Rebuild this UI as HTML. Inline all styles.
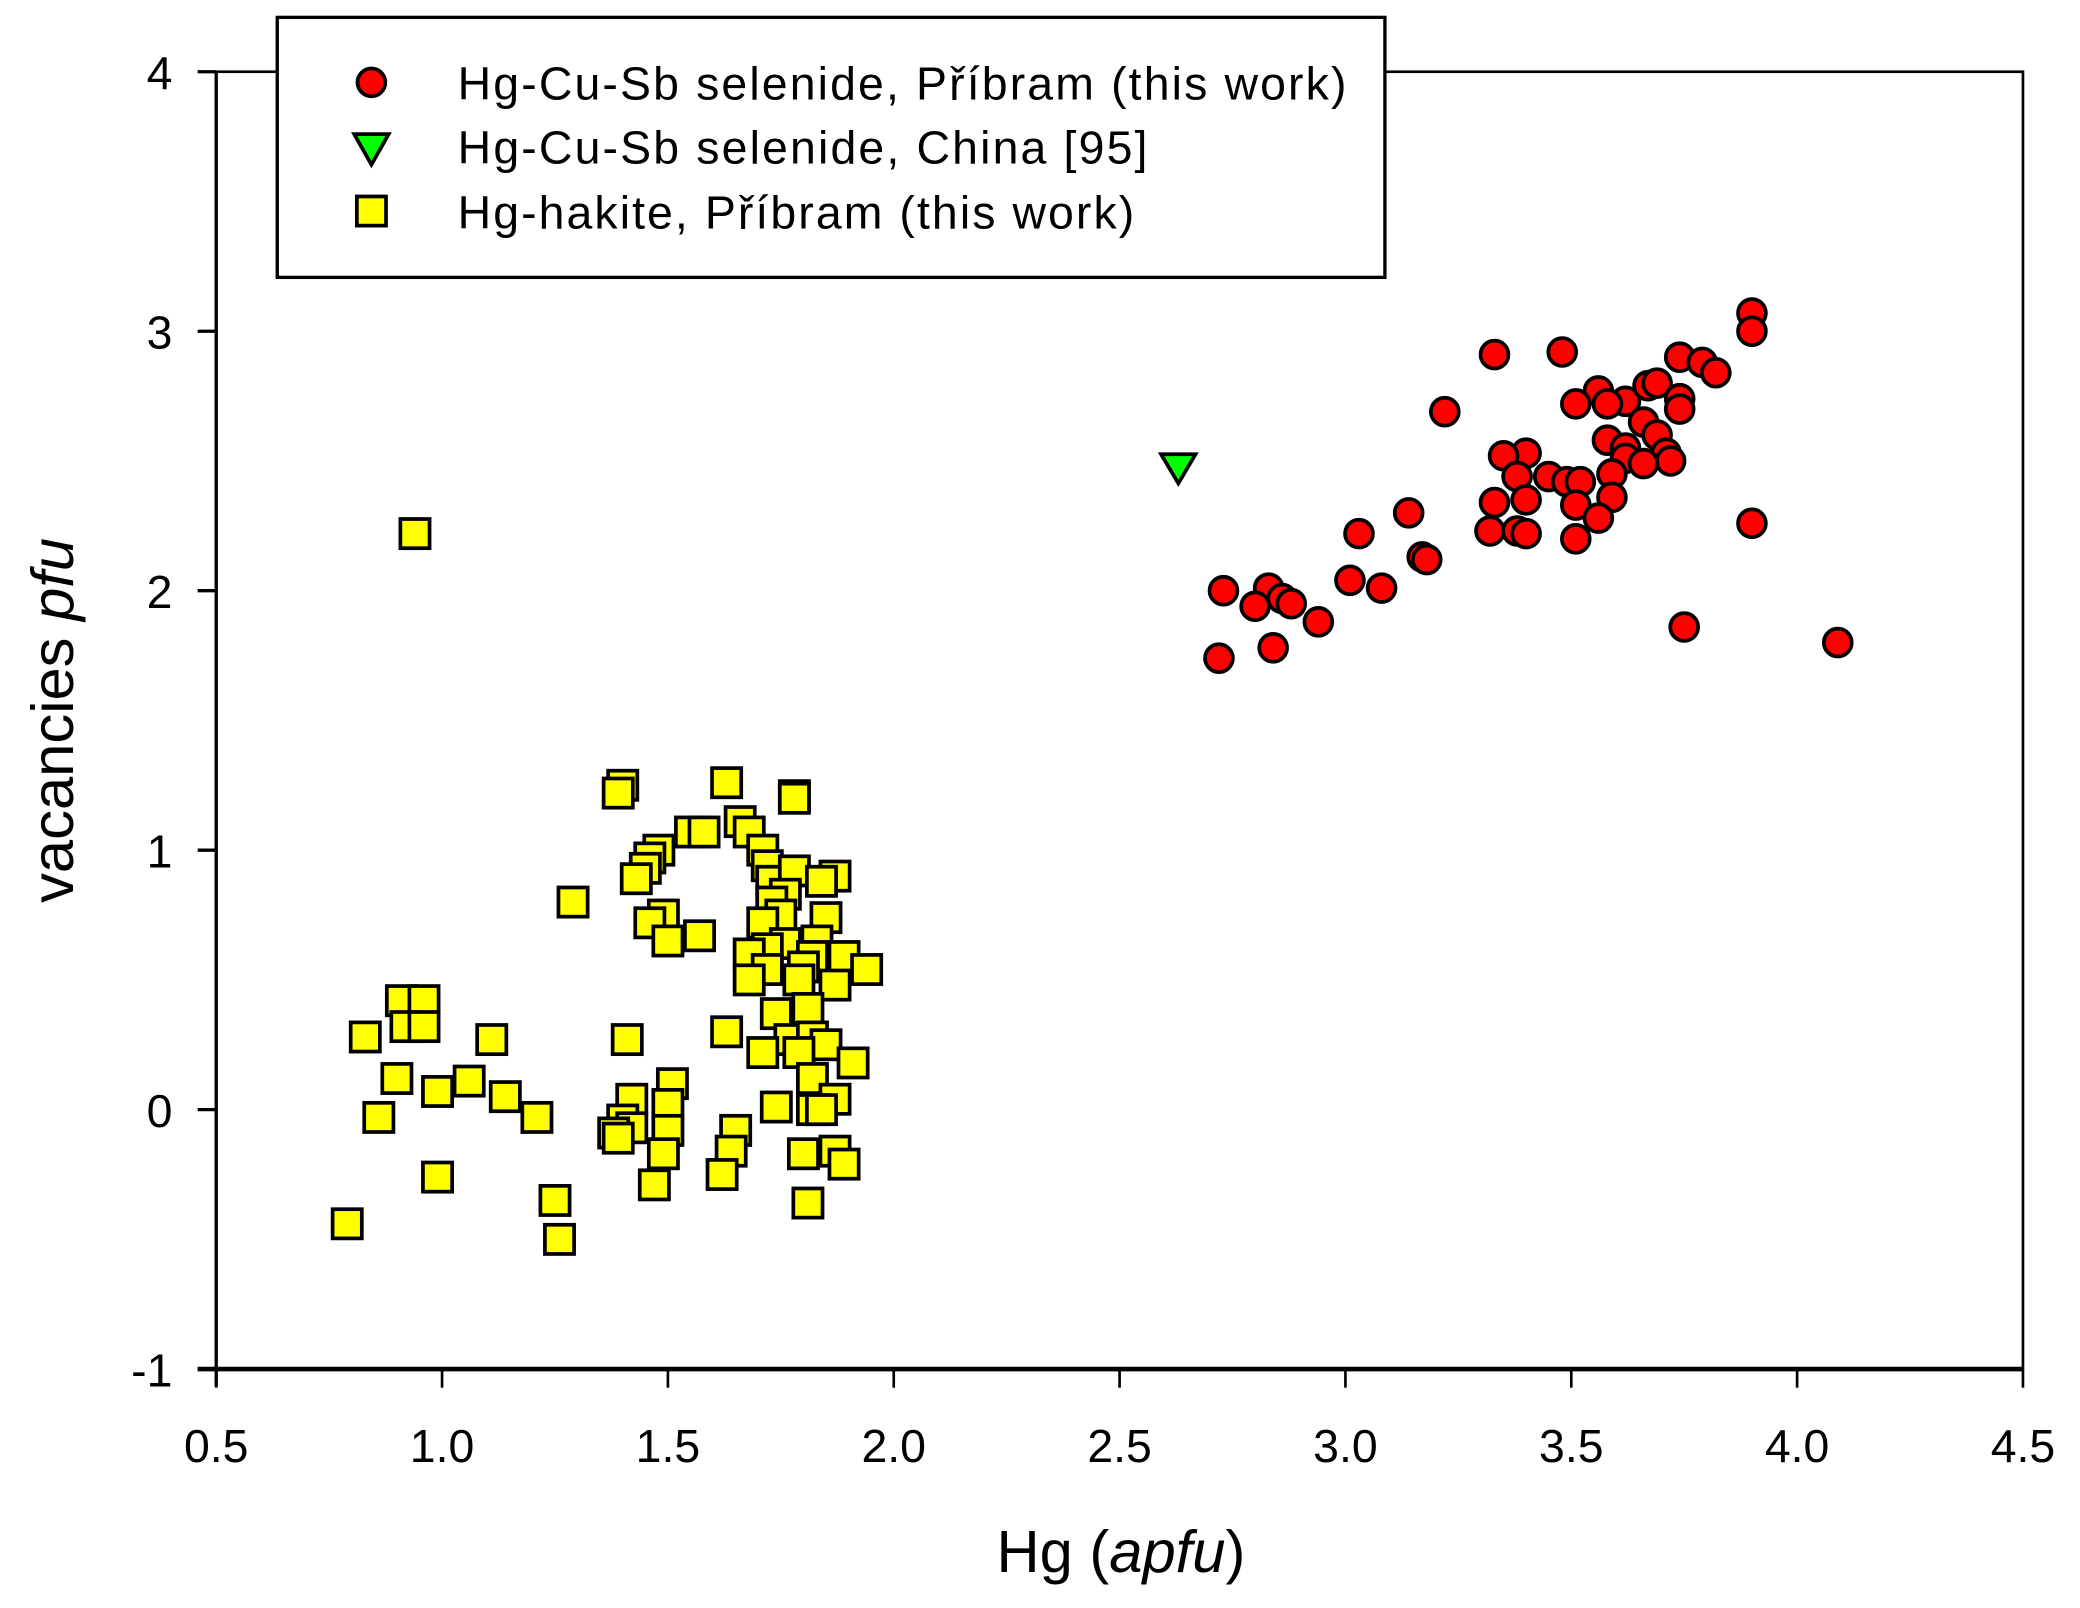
<!DOCTYPE html>
<html><head><meta charset="utf-8"><style>
html,body{margin:0;padding:0;background:#fff;}
svg{display:block;font-family:"Liberation Sans",Arial,sans-serif;}
</style></head><body>
<svg id="chart" width="2080" height="1608" viewBox="0 0 1568 1212" xmlns="http://www.w3.org/2000/svg">
<rect x="0" y="0" width="1568" height="1212" fill="#fff"/>
<g id="axes"></g>
<g id="marks"></g>
<g id="legend">
  <rect x="209" y="13" width="835" height="196" fill="#fff" stroke="#000" stroke-width="2.5"/>
  <circle cx="280" cy="62" r="10.5" fill="#ff0000" stroke="#000" stroke-width="2.8"/>
  <path d="M267,101 L293,101 L280,124 Z" fill="#00ff00" stroke="#000" stroke-width="2.8"/>
  <rect x="269" y="148" width="22" height="22" fill="#ffff00" stroke="#000" stroke-width="2.8"/>
  <text x="345" y="75" font-size="35" textLength="670">Hg-Cu-Sb selenide, Příbram (this work)</text>
  <text x="345" y="123" font-size="35" textLength="520">Hg-Cu-Sb selenide, China [95]</text>
  <text x="345" y="172" font-size="35" textLength="510">Hg-hakite, Příbram (this work)</text>
</g>
<text x="845" y="1185" font-size="45" text-anchor="middle">Hg (<tspan font-style="italic">apfu</tspan>)</text>
<text transform="translate(55,543) rotate(-90)" font-size="45" text-anchor="middle">vacancies <tspan font-style="italic">pfu</tspan></text>
</svg>
<script>
const xTicks = [0.5,1.0,1.5,2.0,2.5,3.0,3.5,4.0,4.5];
const xTickLabels = ["0.5","1.0","1.5","2.0","2.5","3.0","3.5","4.0","4.5"];
const yTicks = [-1,0,1,2,3,4];
const yTickLabels = ["-1","0","1","2","3","4"];
const redX = [3.90,3.90,3.74,3.79,3.82,3.48,3.33,3.56,3.51,3.62,3.67,3.69,3.74,3.74,3.58,3.66,3.22,3.69,3.58,3.62,3.62,3.40,3.35,3.71,3.72,3.66,3.45,3.38,3.59,3.49,3.52,3.40,3.33,3.51,3.59,3.14,3.56,3.90,3.32,3.38,3.40,3.51,3.03,3.17,3.18,3.01,3.08,2.83,2.73,2.86,2.88,2.80,2.94,3.75,4.09,2.84,2.72];
const redY = [3.07,3.00,2.90,2.88,2.84,2.92,2.91,2.77,2.72,2.73,2.79,2.80,2.74,2.70,2.72,2.65,2.69,2.60,2.58,2.55,2.51,2.53,2.52,2.53,2.50,2.49,2.44,2.44,2.45,2.42,2.42,2.35,2.34,2.33,2.36,2.30,2.28,2.26,2.23,2.23,2.22,2.20,2.22,2.13,2.12,2.04,2.01,2.01,2.00,1.97,1.95,1.94,1.88,1.86,1.80,1.78,1.74];
const greenX = [2.63];
const greenY = [2.48];
const yellowX = [0.94,1.40,1.39,1.63,1.78,1.78,1.55,1.58,1.66,1.68,1.71,1.48,1.46,1.45,1.43,1.72,1.73,1.78,1.87,1.84,1.76,1.73,1.29,1.49,1.75,1.85,1.46,1.71,1.50,1.57,1.76,1.83,1.72,1.68,1.82,1.89,1.80,1.72,1.94,1.79,1.68,1.87,0.91,0.96,1.81,1.74,0.92,0.96,0.83,1.11,1.41,1.63,1.77,1.82,1.85,1.79,1.71,1.91,0.90,1.06,1.82,1.51,0.99,1.14,1.42,1.87,1.50,1.74,1.82,1.84,0.86,1.21,1.40,1.42,1.50,1.65,1.38,1.39,1.64,1.80,1.87,1.49,1.89,0.99,1.62,1.47,1.25,1.81,0.79,1.26];
const yellowY = [2.22,1.25,1.22,1.26,1.21,1.20,1.07,1.07,1.11,1.07,1.00,1.00,0.97,0.93,0.89,0.94,0.88,0.92,0.90,0.88,0.83,0.80,0.80,0.75,0.75,0.74,0.72,0.72,0.65,0.67,0.64,0.65,0.62,0.60,0.59,0.59,0.55,0.54,0.54,0.50,0.50,0.48,0.42,0.42,0.39,0.37,0.32,0.32,0.28,0.27,0.27,0.30,0.27,0.28,0.25,0.22,0.22,0.18,0.12,0.11,0.12,0.10,0.07,0.05,0.04,0.04,0.02,0.01,0.00,0.00,-0.03,-0.03,-0.04,-0.07,-0.08,-0.08,-0.09,-0.11,-0.16,-0.17,-0.16,-0.17,-0.21,-0.26,-0.25,-0.29,-0.35,-0.36,-0.44,-0.50];

const NS = "http://www.w3.org/2000/svg";
const L=163,R=1525,T=54,B=1032;
const xMin=0.5,xMax=4.5,yMin=-1,yMax=4;
function sx(v){return L+(v-xMin)/(xMax-xMin)*(R-L);}
function sy(v){return B-(v-yMin)/(yMax-yMin)*(B-T);}
function mk(tag,attrs){const e=document.createElementNS(NS,tag);for(const k in attrs)e.setAttribute(k,attrs[k]);return e;}
const axes=document.getElementById('axes');
const marks=document.getElementById('marks');

const frame=mk('rect',{x:L,y:T,width:R-L,height:B-T,fill:'none',stroke:'#000','stroke-width':2});


axes.appendChild(frame);
const xAxis=mk('line',{x1:L-14,y1:B,x2:R,y2:B,stroke:'#000','stroke-width':3.5});


axes.appendChild(xAxis);
const yAxis=mk('line',{x1:L,y1:T,x2:L,y2:B+13,stroke:'#000','stroke-width':2.5});


axes.appendChild(yAxis);

xTicks.forEach((v,i)=>{
  const t=mk('line',{x1:sx(v),y1:B,x2:sx(v),y2:B+14,stroke:'#000','stroke-width':2});
  
  
  axes.appendChild(t);
  const lb=mk('text',{x:sx(v),y:B+70,'font-size':35,'text-anchor':'middle'});
  lb.textContent=xTickLabels[i];
  
  
  axes.appendChild(lb);
});
yTicks.forEach((v,i)=>{
  const t=mk('line',{x1:L-14,y1:sy(v),x2:L,y2:sy(v),stroke:'#000','stroke-width':2.5});
  
  
  axes.appendChild(t);
  const lb=mk('text',{x:L-33,y:sy(v)+13,'font-size':35,'text-anchor':'end'});
  lb.textContent=yTickLabels[i];
  
  
  axes.appendChild(lb);
});

yellowX.forEach((x,i)=>{
  const s=mk('rect',{x:sx(x)-11,y:sy(yellowY[i])-11,width:22,height:22,fill:'#ffff00',stroke:'#000','stroke-width':2.8});
  
  
  marks.appendChild(s);
});
redX.forEach((x,i)=>{
  const c=mk('circle',{cx:sx(x),cy:sy(redY[i]),r:10.5,fill:'#ff0000',stroke:'#000','stroke-width':2.8});
  
  
  marks.appendChild(c);
});
greenX.forEach((x,i)=>{
  const cx=sx(x),cy=sy(greenY[i]);
  const p=mk('path',{d:`M${cx-13},${cy-9} L${cx+13},${cy-9} L${cx},${cy+13} Z`,fill:'#00ff00',stroke:'#000','stroke-width':2.8});
  
  
  marks.appendChild(p);
});
</script>
</body></html>
